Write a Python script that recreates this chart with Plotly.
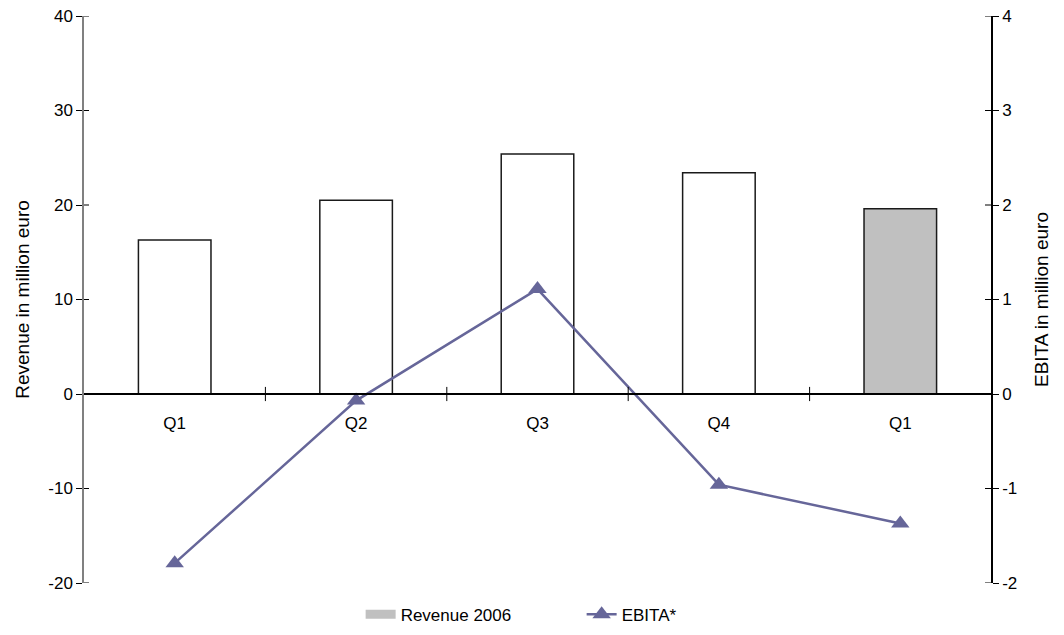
import plotly.graph_objects as go

# Quarterly figures
quarters = ["Q1", "Q2", "Q3", "Q4", "Q1"]
revenue = [16.3, 20.5, 25.4, 23.4, 19.6]          # million euro, left axis
ebita = [-1.79, -0.07, 1.11, -0.96, -1.37]        # million euro, right axis
bar_fill = ["white", "white", "white", "white", "#c0c0c0"]
left_ticks = [-20, -10, 0, 10, 20, 30, 40]
right_ticks = [-2, -1, 0, 1, 2, 3, 4]

x = list(range(len(quarters)))
boundaries = [i + 0.5 for i in range(len(quarters) - 1)]

PLOT_W = 1064 - 84 - 73
FONT = "Liberation Sans, Arial, sans-serif"

fig = go.Figure()
fig.add_trace(go.Bar(
    x=x, y=revenue, width=0.4,
    marker=dict(color=bar_fill, line=dict(color="#1a1a1a", width=1.5)),
    showlegend=False, hoverinfo="y",
))
# legend swatch for the shaded revenue bar
fig.add_trace(go.Scatter(
    x=[None], y=[None], mode="lines", name="Revenue 2006",
    line=dict(color="#c0c0c0", width=9),
))
fig.add_trace(go.Scatter(
    x=x, y=ebita, mode="lines+markers", name="EBITA*", yaxis="y2",
    line=dict(color="#666699", width=2.5),
    marker=dict(symbol="triangle-up", size=16, color="#666699"),
))

shapes = []
tick_line = dict(color="black", width=1)
for v in left_ticks:
    shapes.append(dict(type="line", xref="paper", yref="y", x0=0, x1=5 / PLOT_W,
                       y0=v, y1=v, line=tick_line))
for v in right_ticks:
    shapes.append(dict(type="line", xref="paper", yref="y2", x0=1 - 6 / PLOT_W, x1=1,
                       y0=v, y1=v, line=tick_line))
for b in boundaries:
    shapes.append(dict(type="line", xref="x", yref="y", x0=b, x1=b,
                       y0=-0.75, y1=0.75, line=tick_line))

fig.update_layout(
    width=1064, height=635,
    margin=dict(l=84, r=73, t=16, b=52, autoexpand=False),
    paper_bgcolor="white", plot_bgcolor="white",
    font=dict(family=FONT, size=17, color="black"),
    bargap=0.6,
    shapes=shapes,
    xaxis=dict(
        range=[-0.5, len(quarters) - 0.5],
        tickvals=x, ticktext=quarters,
        anchor="free", position=1 / 3,
        showline=True, linecolor="black", linewidth=1.5,
        ticks="", ticklabelstandoff=14,
        showgrid=False, zeroline=False, automargin=False,
        tickfont=dict(size=17),
    ),
    yaxis=dict(
        range=[-20, 40], tickvals=left_ticks, ticktext=[str(v) for v in left_ticks],
        ticks="outside", ticklen=6, tickcolor="black", tickwidth=1,
        showline=True, linecolor="#808080", linewidth=1.5,
        showgrid=False, zeroline=False, automargin=False,
        tickfont=dict(size=17),
        title=dict(text="Revenue in million euro", font=dict(size=19), standoff=14),
    ),
    yaxis2=dict(
        overlaying="y", side="right",
        range=[-2, 4], tickvals=right_ticks, ticktext=[str(v) for v in right_ticks],
        ticks="outside", ticklen=6, tickcolor="black", tickwidth=1,
        showline=True, linecolor="black", linewidth=1.5,
        showgrid=False, zeroline=False, automargin=False,
        tickfont=dict(size=17),
        title=dict(text="EBITA in million euro", font=dict(size=19), standoff=18),
    ),
    legend=dict(
        orientation="h", x=0.305, xanchor="left", y=-0.056, yanchor="middle",
        font=dict(size=17), entrywidth=176, entrywidthmode="pixels",
        bgcolor="rgba(0,0,0,0)",
    ),
)

fig.write_html("out.html")
